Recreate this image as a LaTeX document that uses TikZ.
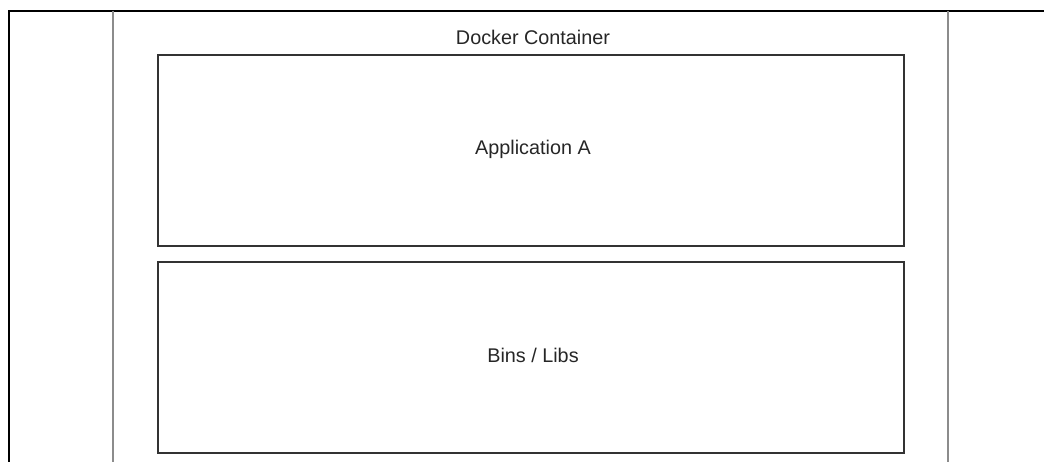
\documentclass[tikz,border=0pt]{standalone}
\usepackage{fontspec}
\setmainfont{Liberation Sans}
\begin{document}
\begin{tikzpicture}[x=1pt,y=-1pt,
  frame/.style={draw=black,line width=1.6pt},
  wall/.style={draw=black!45,line width=2pt},
  layer/.style={draw=black!80,line width=1.3pt,minimum width=746pt,minimum height=191pt,inner sep=0pt},
  lbl/.style={font=\fontsize{19.8}{23}\selectfont,text=black!85,inner sep=0pt}]
\useasboundingbox (0,0) rectangle (1044,462);
% host frame
\coordinate (hostTL) at (9,11);
\coordinate (hostTR) at (1044,11);
\coordinate (hostBL) at (9,462);
\draw[frame] (hostBL) -- (hostTL) -- (hostTR);
% container walls
\coordinate (cLt) at (113,11);
\coordinate (cLb) at (113,462);
\coordinate (cRt) at (948,11);
\coordinate (cRb) at (948,462);
\draw[wall] (cLt) -- (cLb);
\draw[wall] (cRt) -- (cRb);
% container title
\node[lbl] (title) at (533,37) {Docker Container};
% layers
\node[layer] (app) at (531,150.5) {};
\node[lbl] (appT) at (533,149) {Application A};
\node[layer] (libs) at (531,357.5) {};
\node[lbl] (libsT) at (533,355) {Bins / Libs};
\end{tikzpicture}
\end{document}
